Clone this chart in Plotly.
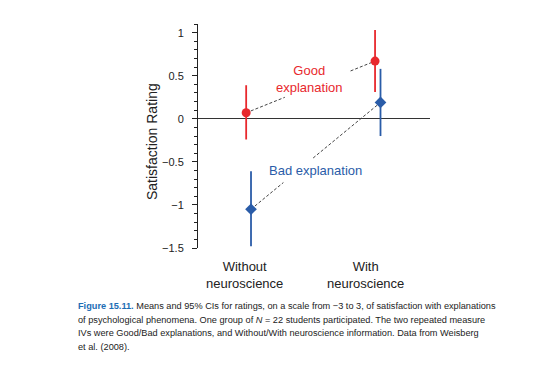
import plotly.graph_objects as go

# ---- data ----
conditions = ["Without<br>neuroscience", "With<br>neuroscience"]
good_mean = [0.07, 0.67]
good_lo = [-0.24, 0.31]
good_hi = [0.39, 1.03]
bad_mean = [-1.05, 0.19]
bad_lo = [-1.48, -0.20]
bad_hi = [-0.61, 0.58]
y_ticks = [-1.5, -1, -0.5, 0, 0.5, 1]

# ---- layout constants (page body has an 8px margin) ----
OFF = 8
PL, PT, PW, PH = 198, 24, 232, 224   # plot area in page pixels
W, H = 534 - 2 * OFF, 365 - 2 * OFF
L, T = PL - OFF, PT - OFF
R, B = W - L - PW, H - T - PH
cat_x = [0, 1]
good_x = [0.01, 1.075]
bad_x = [0.05, 1.12]
RED = "#e8282d"
BLUE = "#2a5ca8"
FONT = "Liberation Sans, Arial, sans-serif"

def seg(xs, ys, t0, t1):
    x0, x1 = xs
    y0, y1 = ys
    return ([x0 + (x1 - x0) * t0, x0 + (x1 - x0) * t1],
            [y0 + (y1 - y0) * t0, y0 + (y1 - y0) * t1])

fig = go.Figure()

# dashed connectors with gaps for the labels
for xs, ys, gaps in [(good_x, good_mean, [(0, 0.30), (0.81, 1)]),
                     (bad_x, bad_mean, [(0, 0.25), (0.48, 1)])]:
    for t0, t1 in gaps:
        sx, sy = seg(xs, ys, t0, t1)
        fig.add_trace(go.Scatter(x=sx, y=sy, mode="lines",
                                 line=dict(color="#444", width=1, dash="3px,2px"),
                                 hoverinfo="skip", showlegend=False))

fig.add_trace(go.Scatter(
    x=good_x, y=good_mean, mode="markers",
    marker=dict(symbol="circle", size=9, color=RED),
    error_y=dict(type="data", symmetric=False,
                 array=[h - m for h, m in zip(good_hi, good_mean)],
                 arrayminus=[m - l for l, m in zip(good_lo, good_mean)],
                 color=RED, thickness=1.8, width=0),
    showlegend=False))
fig.add_trace(go.Scatter(
    x=bad_x, y=bad_mean, mode="markers",
    marker=dict(symbol="diamond", size=9, color=BLUE),
    error_y=dict(type="data", symmetric=False,
                 array=[h - m for h, m in zip(bad_hi, bad_mean)],
                 arrayminus=[m - l for l, m in zip(bad_lo, bad_mean)],
                 color=BLUE, thickness=1.8, width=0),
    showlegend=False))

def px(xp):
    return (xp - PL) / PW
def py(yp):
    return (PT + PH - yp) / PH

ann = []
ann.append(dict(x=0.537, y=0.457, xref="x", yref="y", text="Good<br>explanation",
                showarrow=False, font=dict(color=RED, size=13, family=FONT)))
ann.append(dict(x=0.579, y=-0.60, xref="x", yref="y", text="Bad explanation",
                showarrow=False, font=dict(color=BLUE, size=13, family=FONT)))
for cx, lab in zip(cat_x, conditions):
    ann.append(dict(x=cx, y=py(275), xref="x", yref="paper", text=lab,
                    xanchor="center", yanchor="middle",
                    showarrow=False, font=dict(color="#222", size=13, family=FONT)))
ann.append(dict(x=px(152), y=py(142), xref="paper", yref="paper",
                xanchor="center", yanchor="middle",
                text="Satisfaction Rating", textangle=-90, showarrow=False,
                font=dict(color="#222", size=14, family=FONT)))

caption = [
    "<b><span style='color:#1d6db5'>Figure 15.11.</span></b> Means and 95% CIs for ratings, on a scale from \u22123 to 3, of satisfaction with explanations",
    "of psychological phenomena. One group of <i>N</i> = 22 students participated. The two repeated measure",
    "IVs were Good/Bad explanations, and Without/With neuroscience information. Data from Weisberg",
    "et al. (2008).",
]
for i, line in enumerate(caption):
    ann.append(dict(x=px(76), y=py(305.7 + 13.8 * i), xref="paper", yref="paper",
                    xanchor="left", yanchor="middle", text=line, showarrow=False,
                    font=dict(color="#222", size=9.2,
                              family="Liberation Sans Narrow, Arial Narrow, Liberation Sans, sans-serif")))

fig.update_layout(
    width=W, height=H, margin=dict(l=L, r=R, t=T, b=B, autoexpand=False),
    paper_bgcolor="white", plot_bgcolor="white",
    font=dict(family=FONT, color="#222"),
    annotations=ann,
    xaxis=dict(range=[-0.388, 1.529], showline=False, showgrid=False,
               zeroline=False, showticklabels=False, ticks=""),
    yaxis=dict(range=[-1.5, 1.101], tickvals=y_ticks, showgrid=False,
               showline=True, linecolor="#222", linewidth=1,
               ticks="outside", ticklen=5, tickcolor="#222", tickwidth=1,
               ticklabelstandoff=6,
               tickfont=dict(size=11, color="#222", family=FONT),
               minor=dict(dtick=0.1, tick0=0, ticks="outside", ticklen=3,
                          tickcolor="#222", showgrid=False),
               zeroline=True, zerolinecolor="#333", zerolinewidth=1),
)

fig.write_html("out.html")
